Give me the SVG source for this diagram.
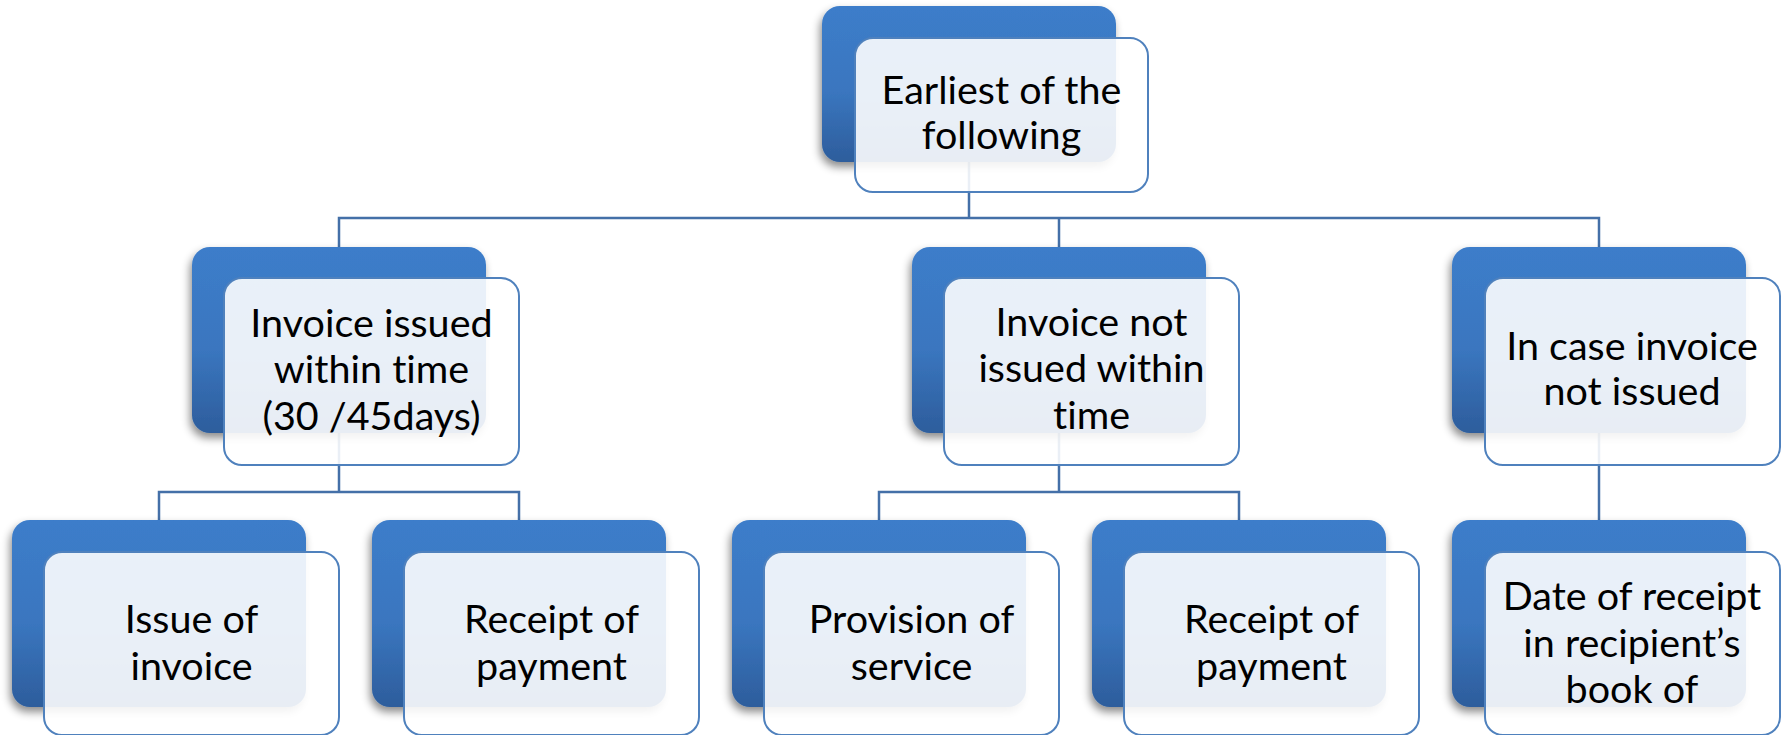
<svg xmlns="http://www.w3.org/2000/svg" width="1789" height="735" viewBox="0 0 1789 735">
  <defs>
    <linearGradient id="darkFill" x1="0" y1="0" x2="0" y2="1">
      <stop offset="0" stop-color="#3C7DCA"/>
      <stop offset="0.55" stop-color="#3A76BF"/>
      <stop offset="1" stop-color="#2D5D9C"/>
    </linearGradient>
    <filter id="shadow" x="-10%" y="-10%" width="120%" height="130%">
      <feDropShadow dx="-2" dy="5" stdDeviation="4" flood-color="#000" flood-opacity="0.45"/>
    </filter>
  </defs>
  <style>
    .back { fill: url(#darkFill); filter: url(#shadow); }
    .front { fill: #FFFFFF; fill-opacity: 0.89; stroke: #4F81BD; stroke-width: 2; }
    .link { fill: none; stroke: #4470A8; stroke-width: 2.5; }
    .label { font-family: Lato, "Open Sans", sans-serif; font-size: 39.5px; fill: #000; text-anchor: middle; font-variant-ligatures: none; font-feature-settings: "liga" 0, "dlig" 0; }
  </style>
  <rect width="1789" height="735" fill="#FFFFFF"/>

  <!-- connectors (drawn first so the translucent front panels veil them) -->
  <g id="connectors" class="link">
    <path d="M969 150 V218 M339 247 V218 H1599 V247 M1059 218 V247"/>
    <path d="M339 430 V492 M159 520 V492 H519 V520"/>
    <path d="M1059 430 V492 M879 520 V492 H1239 V520"/>
    <path d="M1599 430 V520"/>
  </g>

  <g id="root">
    <rect class="back" x="822" y="6" width="294" height="156" rx="18"/>
    <rect class="front" x="855" y="38" width="293" height="154" rx="18"/>
    <text class="label" x="1001.5"><tspan x="1001.5" y="104">Earliest of the</tspan><tspan x="1001.5" y="149">following</tspan></text>
  </g>

  <g id="issued-in-time">
    <rect class="back" x="192" y="247" width="294" height="186" rx="18"/>
    <rect class="front" x="224" y="278" width="295" height="187" rx="18"/>
    <text class="label"><tspan x="371.5" y="337">Invoice issued</tspan><tspan x="371.5" y="383">within time</tspan><tspan x="371.5" y="430">(30 /45days)</tspan></text>
  </g>

  <g id="not-issued-in-time">
    <rect class="back" x="912" y="247" width="294" height="186" rx="18"/>
    <rect class="front" x="944" y="278" width="295" height="187" rx="18"/>
    <text class="label"><tspan x="1091.5" y="336">Invoice not</tspan><tspan x="1091.5" y="382">issued within</tspan><tspan x="1091.5" y="429">time</tspan></text>
  </g>

  <g id="not-issued">
    <rect class="back" x="1452" y="247" width="294" height="186" rx="18"/>
    <rect class="front" x="1485" y="278" width="295" height="187" rx="18"/>
    <text class="label"><tspan x="1632" y="360">In case invoice</tspan><tspan x="1632" y="405">not issued</tspan></text>
  </g>

  <g id="issue-of-invoice">
    <rect class="back" x="12" y="520" width="294" height="187" rx="18"/>
    <rect class="front" x="44" y="552" width="295" height="183" rx="18"/>
    <text class="label"><tspan x="191.5" y="633">Issue of</tspan><tspan x="191.5" y="680">invoice</tspan></text>
  </g>

  <g id="receipt-of-payment-1">
    <rect class="back" x="372" y="520" width="294" height="187" rx="18"/>
    <rect class="front" x="404" y="552" width="295" height="183" rx="18"/>
    <text class="label"><tspan x="551.5" y="633">Receipt of</tspan><tspan x="551.5" y="680">payment</tspan></text>
  </g>

  <g id="provision-of-service">
    <rect class="back" x="732" y="520" width="294" height="187" rx="18"/>
    <rect class="front" x="764" y="552" width="295" height="183" rx="18"/>
    <text class="label"><tspan x="911.5" y="633">Provision of</tspan><tspan x="911.5" y="680">service</tspan></text>
  </g>

  <g id="receipt-of-payment-2">
    <rect class="back" x="1092" y="520" width="294" height="187" rx="18"/>
    <rect class="front" x="1124" y="552" width="295" height="183" rx="18"/>
    <text class="label"><tspan x="1271.5" y="633">Receipt of</tspan><tspan x="1271.5" y="680">payment</tspan></text>
  </g>

  <g id="date-of-receipt">
    <rect class="back" x="1452" y="520" width="294" height="187" rx="18"/>
    <rect class="front" x="1485" y="552" width="295" height="183" rx="18"/>
    <text class="label"><tspan x="1632" y="610">Date of receipt</tspan><tspan x="1632" y="657">in recipient’s</tspan><tspan x="1632" y="703">book of</tspan></text>
  </g>
</svg>
